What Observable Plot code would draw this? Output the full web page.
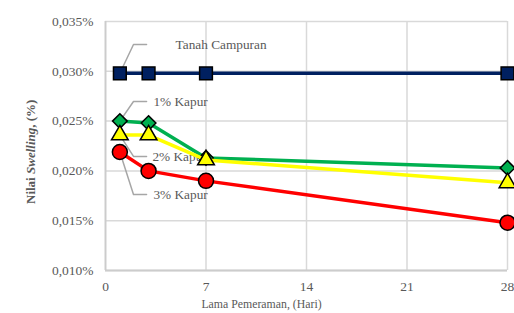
<!DOCTYPE html>
<html><head><meta charset="utf-8">
<script src="https://cdn.jsdelivr.net/npm/d3@7"></script>
<script src="https://cdn.jsdelivr.net/npm/@observablehq/plot@0.6"></script>
<style>body{margin:0;background:#fff} svg text{font-family:"Liberation Serif","Times New Roman",serif !important;}</style>
</head><body><div id="chart"></div>
<script>
const days = [1, 3, 7, 28];
const seriesNames = ["Tanah Campuran", "1% Kapur", "2% Kapur", "3% Kapur"];
const tanahCampuran = [0.0298, 0.0298, 0.0298, 0.0298];
const kapur1 = [0.0250, 0.0248, 0.0213, 0.0203];
const kapur2 = [0.0236, 0.0236, 0.0211, 0.0188];
const kapur3 = [0.0219, 0.0200, 0.0190, 0.0148];
const yTicks = [0.010, 0.015, 0.020, 0.025, 0.030, 0.035];
const xTicks = [0, 7, 14, 21, 28];

const allValues = [tanahCampuran, kapur1, kapur2, kapur3];
const styles = [
  {color: "#002060", symbol: "square", r: 7.2},
  {color: "#00B050", symbol: "diamond2", r: 6.6},
  {color: "#FFFF00", symbol: "triangle", r: 6.2},
  {color: "#FF0000", symbol: "circle", r: 7.5}
];
// annotation placement (data units) for data labels with leader lines
const labelY = [0.03269, 0.02697, 0.02145, 0.01763];
const labelX = [4.88, 3.34, 3.27, 3.34];
const elbowX = 1.95, leaderEndX = 2.86;

const fmt = v => d3.format(".3f")(v).replace(".", ",") + "%";

const marks = [
  Plot.gridY(yTicks, {stroke: "#d9d9d9", strokeOpacity: 1, strokeWidth: 1.5}),
  Plot.gridX(xTicks.slice(1), {stroke: "#d9d9d9", strokeOpacity: 1, strokeWidth: 1.5}),
  Plot.ruleX([0], {stroke: "#cccccc", strokeWidth: 2}),
  Plot.ruleY([0.010], {stroke: "#cccccc", strokeWidth: 2}),
  Plot.axisY(yTicks, {tickSize: 0, tickPadding: 12, tickFormat: fmt, fill: "#595959", fontSize: 13.5, label: null}),
  Plot.axisX(xTicks, {tickSize: 0, tickPadding: 11, fill: "#595959", fontSize: 13.5, label: null})
];

// leader lines + labels
seriesNames.forEach((name, i) => {
  const pts = [
    {x: days[0], y: allValues[i][0]},
    {x: elbowX, y: labelY[i]},
    {x: leaderEndX, y: labelY[i]}
  ];
  marks.push(Plot.line(pts, {x: "x", y: "y", stroke: "#a6a6a6", strokeWidth: 1.5, curve: "linear"}));
  marks.push(Plot.text([name], {x: labelX[i], y: labelY[i], text: d => d, textAnchor: "start", fill: "#595959", fontSize: 13.3}));
});

// series
seriesNames.forEach((name, i) => {
  const data = days.map((d, j) => ({day: d, value: allValues[i][j], series: name}));
  marks.push(Plot.line(data, {x: "day", y: "value", stroke: styles[i].color, strokeWidth: 3.5}));
  marks.push(Plot.dot(data, {x: "day", y: "value", symbol: () => styles[i].symbol, fill: styles[i].color, stroke: "#000", strokeWidth: 1.5, r: styles[i].r}));
});

marks.push(Plot.text(["Lama Pemeraman, (Hari)"], {frameAnchor: "bottom", lineAnchor: "middle", dx: -45, dy: 34, fill: "#595959", fontSize: 11.8}));
// rotated y title: anchored at its start (bottom end), extending upward
marks.push(Plot.text(["Nilai Swelling, (%)"], {frameAnchor: "left", textAnchor: "start", lineAnchor: "middle", dx: -75, dy: 58, rotate: -90, fill: "#595959", fontSize: 13, fontWeight: "bold", className: "ylab"}));

const chart = Plot.plot({
  width: 514,
  height: 313,
  marginLeft: 105,
  marginRight: 7,
  marginTop: 21,
  marginBottom: 43,
  style: {fontFamily: "Liberation Serif", fontSize: "13px", background: "#fff"},
  x: {domain: [0, 28]},
  y: {domain: [0.010, 0.035]},
  symbol: {type: "identity"},
  marks
});
document.getElementById("chart").appendChild(chart);

// italic "Swelling"
const t = d3.select(chart).select(".ylab text");
if (!t.empty()) {
  t.text(null);
  t.append("tspan").text("Nilai ");
  t.append("tspan").attr("font-style", "italic").text("Swelling");
  t.append("tspan").text(", (%)");
}
</script>
</body></html>
